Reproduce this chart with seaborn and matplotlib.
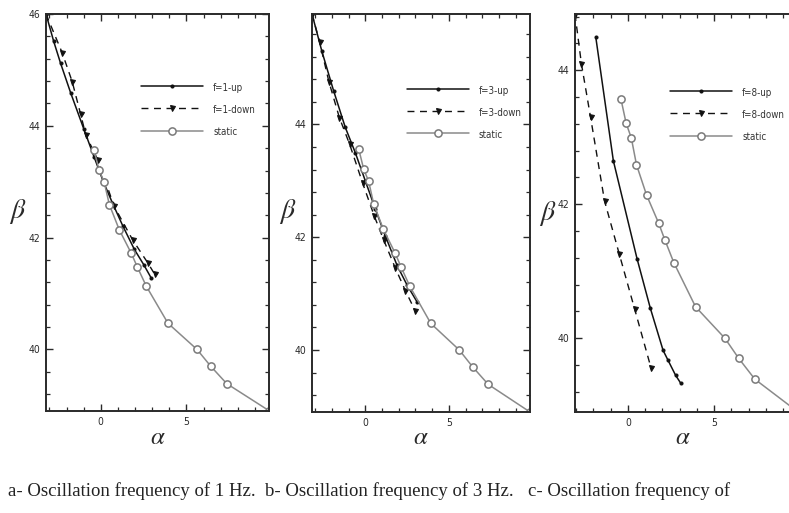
import matplotlib
matplotlib.use("Agg")
import matplotlib.pyplot as plt
from matplotlib import font_manager as fm
from matplotlib.ticker import MultipleLocator
import seaborn as sns
import pandas as pd

# ---------------- data ----------------
static_alpha = [-0.40, -0.10, 0.20, 0.50, 1.08, 1.78, 2.14, 2.66, 3.92, 5.62, 6.42, 7.35, 9.85]
static_beta = [43.57, 43.21, 42.99, 42.59, 42.14, 41.72, 41.47, 41.13, 40.47, 40.00, 39.70, 39.39, 38.90]

up1_alpha = [-3.20, -2.75, -2.35, -1.76, -1.00, -0.40, 0.15, 0.68, 1.30, 1.96, 2.50, 2.94]
up1_beta = [46.00, 45.51, 45.12, 44.59, 43.95, 43.45, 43.00, 42.62, 42.20, 41.79, 41.52, 41.28]
down1_alpha = [-3.20, -2.26, -1.67, -1.18, -0.88, -0.16, 0.78, 1.86, 2.74, 3.14]
down1_beta = [46.00, 45.31, 44.79, 44.21, 43.84, 43.38, 42.56, 41.96, 41.55, 41.35]

up3_alpha = [-3.19, -2.60, -1.90, -1.20, -0.60, 0.00, 0.60, 1.20, 1.90, 2.50, 3.10]
up3_beta = [45.96, 45.30, 44.60, 43.95, 43.50, 43.00, 42.50, 42.02, 41.50, 41.15, 40.85]
down3_alpha = [-3.19, -2.74, -2.18, -1.55, -0.94, -0.16, 0.53, 1.10, 1.80, 2.40, 2.99]
down3_beta = [45.96, 45.47, 44.76, 44.12, 43.65, 42.96, 42.38, 41.95, 41.45, 41.05, 40.69]

up8_alpha = [-1.86, -0.84, 0.53, 1.30, 2.04, 2.33, 2.76, 3.06]
up8_beta = [44.50, 42.65, 41.19, 40.45, 39.82, 39.67, 39.45, 39.33]
down8_alpha = [-3.06, -2.69, -2.16, -1.35, -0.50, 0.40, 1.35]
down8_beta = [44.84, 44.10, 43.30, 42.05, 41.26, 40.43, 39.55]

panel_freqs = [1, 3, 8]
x_ticks = [0, 5]
y_ticks = [40, 42, 44, 46]
captions = ["a- Oscillation frequency of 1 Hz.",
            "b- Oscillation frequency of 3 Hz.",
            "c- Oscillation frequency of"]

# ---------------- fonts ----------------
names = {f.name for f in fm.fontManager.ttflist}
if "Liberation Sans Narrow" in names:
    narrow = fm.FontProperties(family="Liberation Sans Narrow")
else:
    narrow = fm.FontProperties(family="DejaVu Sans", stretch="condensed")
cap_family = "Liberation Serif" if "Liberation Serif" in names else "DejaVu Serif"

sns.set_style("ticks")
plt.rcParams["mathtext.fontset"] = "stix"

W, H = 789, 513
fig = plt.figure(figsize=(W / 100, H / 100), dpi=100)

def box(l, t, r, b):
    return [l / W, 1 - b / H, (r - l) / W, (b - t) / H]

panels = [
    dict(pos=box(46, 14, 269.5, 411), xlim=(-3.20, 9.85), ylim=(38.90, 46.00),
         up=(up1_alpha, up1_beta), down=(down1_alpha, down1_beta),
         leg=(0.425, 0.830), beta=(18, 212), alpha=(158, 437), cap=8),
    dict(pos=box(312, 14, 530, 412), xlim=(-3.19, 9.85), ylim=(38.90, 45.96),
         up=(up3_alpha, up3_beta), down=(down3_alpha, down3_beta),
         leg=(0.434, 0.824), beta=(288, 212), alpha=(421, 437), cap=265),
    dict(pos=box(575, 14, 798, 412), xlim=(-3.06, 9.85), ylim=(38.90, 44.84),
         up=(up8_alpha, up8_beta), down=(down8_alpha, down8_beta),
         leg=(0.426, 0.818), beta=(548, 213), alpha=(683, 437), cap=528),
]

ink = "#2a2a2a"
for f, p in zip(panel_freqs, panels):
    ax = fig.add_axes(p["pos"])
    up_df = pd.DataFrame({"alpha": p["up"][0], "beta": p["up"][1]})
    dn_df = pd.DataFrame({"alpha": p["down"][0], "beta": p["down"][1]})
    st_df = pd.DataFrame({"alpha": static_alpha, "beta": static_beta})

    sns.lineplot(data=up_df, x="alpha", y="beta", ax=ax, sort=False, estimator=None,
                 color="#111111", linewidth=1.1, marker="o", markersize=2.2,
                 markerfacecolor="#111111", markeredgecolor="#111111",
                 label=f"f={f}-up")
    sns.lineplot(data=dn_df, x="alpha", y="beta", ax=ax, sort=False, estimator=None,
                 color="#111111", linewidth=1.0, linestyle=(0, (5, 4)), marker="v",
                 markersize=3.6, markerfacecolor="#111111", markeredgecolor="#111111",
                 label=f"f={f}-down")
    sns.lineplot(data=st_df, x="alpha", y="beta", ax=ax, sort=False, estimator=None,
                 color="#8a8a8a", linewidth=1.1, marker="o", markersize=5.2,
                 markerfacecolor="white", markeredgecolor="#7a7a7a",
                 markeredgewidth=1.1, label="static")

    ax.set_xlim(*p["xlim"])
    ax.set_ylim(*p["ylim"])
    ax.set_xticks(x_ticks)
    ax.set_yticks([t for t in y_ticks if p["ylim"][0] <= t <= p["ylim"][1] + 1e-9])
    ax.xaxis.set_minor_locator(MultipleLocator(1))
    ax.yaxis.set_minor_locator(MultipleLocator(0.4))
    ax.tick_params(which="both", direction="in", top=True, right=True,
                   color=ink, labelcolor=ink, labelsize=7.5, pad=4)
    ax.tick_params(which="major", length=5, width=1.0)
    ax.tick_params(which="minor", length=3, width=0.9)
    for lab in ax.get_xticklabels() + ax.get_yticklabels():
        lab.set_fontproperties(narrow)
        lab.set_fontsize(7.5)
    for s in ax.spines.values():
        s.set_color(ink)
        s.set_linewidth(1.4)
    ax.set_xlabel("")
    ax.set_ylabel("")

    leg = ax.legend(loc="upper left", bbox_to_anchor=p["leg"], frameon=False,
                    prop=narrow.copy(), fontsize=7, handlelength=4.5,
                    handletextpad=0.7, labelspacing=0.75, borderpad=0,
                    borderaxespad=0)
    for t in leg.get_texts():
        t.set_fontsize(7)
        t.set_color("#333333")

    fig.text(p["beta"][0] / W, 1 - p["beta"][1] / H, r"$\beta$", fontsize=20,
             ha="center", va="center", color=ink)
    fig.text(p["alpha"][0] / W, 1 - p["alpha"][1] / H, r"$\alpha$", fontsize=18,
             ha="center", va="center", color=ink)

# captions, fitted in width to the reference
cap_texts = []
for p, cap in zip(panels, captions):
    t = fig.text(p["cap"] / W, 1 - 491 / H, cap, family=cap_family, fontsize=12,
                 ha="left", va="center", color="#222222")
    cap_texts.append(t)
renderer = fig.canvas.get_renderer()
wa = cap_texts[0].get_window_extent(renderer).width
size = 12 * 246 / wa
for t in cap_texts:
    t.set_fontsize(size)

fig.savefig("out.png", dpi=100)
